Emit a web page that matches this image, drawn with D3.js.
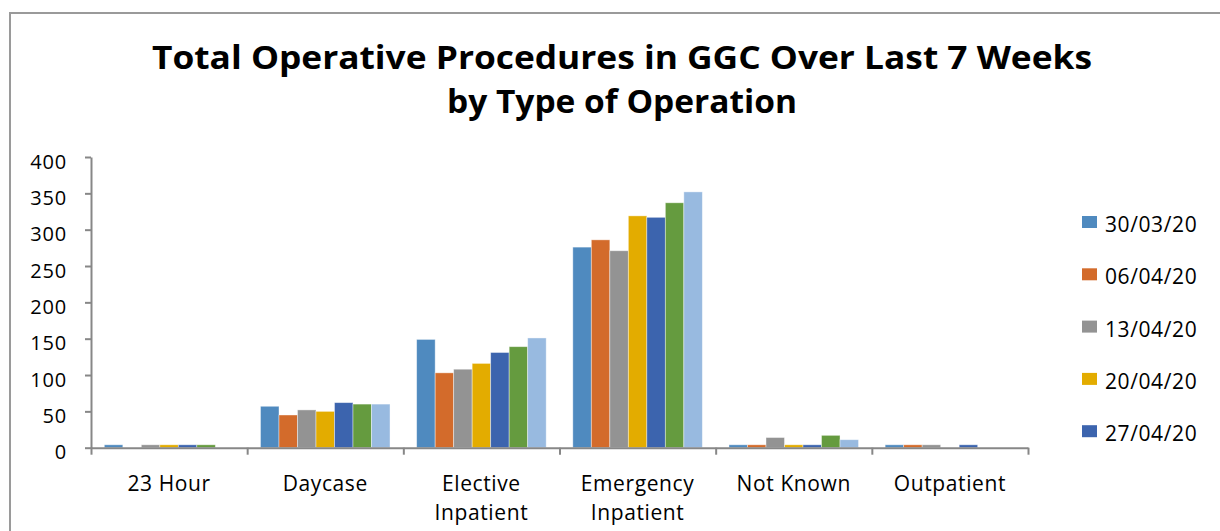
<!DOCTYPE html>
<meta charset="utf-8">
<style>
body { margin: 0; background: #fff; }
text { font-family: "Open Sans", sans-serif; fill: #000; }
.title { font-weight: 700; font-size: 32px; }
.axis text { font-size: 20px; letter-spacing: 0.8px; }
.axis path, .axis line { stroke: #878787; stroke-width: 2; }
.cat { font-size: 21px; letter-spacing: 0.6px; }
.legend text { font-size: 21px; letter-spacing: 0.6px; }
</style>
<svg width="1220" height="531"></svg>
<script src="https://cdn.jsdelivr.net/npm/d3@7"></script>
<script>

var categories = ["23 Hour", "Daycase", "Elective\nInpatient", "Emergency\nInpatient", "Not Known", "Outpatient"];
var weeks = ["30/03/20", "06/04/20", "13/04/20", "20/04/20", "27/04/20", "04/05/20", "11/05/20"];
var colors = ["#4f8abf", "#d36b2b", "#939393", "#e3ac00", "#3c64ae", "#659b3f", "#98bae0"];

// one array per week, in category order
var wk1 = [4, 57, 149, 276, 4, 4];
var wk2 = [0, 45, 103, 286, 4, 4];
var wk3 = [4, 52, 108, 271, 14, 4];
var wk4 = [4, 50, 116, 319, 4, 0];
var wk5 = [4, 62, 131, 317, 4, 4];
var wk6 = [4, 60, 139, 337, 17, 0];
var wk7 = [0, 60, 151, 352, 11, 0];
var series = [wk1, wk2, wk3, wk4, wk5, wk6, wk7];

var yTicks = [0, 50, 100, 150, 200, 250, 300, 350, 400];
var titleLines = ["Total Operative Procedures in GGC Over Last 7 Weeks", "by Type of Operation"];

var svg = d3.select("svg");

// chart frame (runs off the right and bottom edges)
svg.append("rect")
    .attr("x", 10).attr("y", 13)
    .attr("width", 1240).attr("height", 560)
    .attr("fill", "#fff")
    .attr("stroke", "#9a9a9a")
    .attr("stroke-width", 2);

var plotLeft = 91, plotRight = 1028, plotTop = 157, plotBottom = 447.7;

var x0 = d3.scaleBand().domain(categories).range([plotLeft, plotRight]).paddingInner(0).paddingOuter(0);
var x1 = d3.scaleBand().domain(weeks).range([0, x0.bandwidth()]).paddingInner(0).paddingOuter(0.72);
var y = d3.scaleLinear().domain([0, 400]).range([plotBottom, plotTop]);
var xEdge = d3.scaleLinear().domain([0, categories.length]).range([plotLeft, plotRight]);

// title
svg.selectAll(".title")
    .data(titleLines)
    .enter().append("text")
    .attr("class", "title")
    .attr("x", 622)
    .attr("y", function(d, i) { return 69 + i * 44; })
    .attr("text-anchor", "middle")
    .attr("textLength", function(d, i) { return i == 0 ? 940 : 350; })
    .attr("lengthAdjust", "spacingAndGlyphs")
    .text(function(d) { return d; });

// bars
var groups = svg.selectAll(".cat-g")
    .data(categories)
    .enter().append("g")
    .attr("class", "cat-g")
    .attr("transform", function(d) { return "translate(" + x0(d) + ",0)"; });

groups.selectAll("rect")
    .data(function(d, ci) { return weeks.map(function(w, wi) { return { week: w, i: wi, value: series[wi][ci] }; }); })
    .enter().append("rect")
    .filter(function(d) { return d.value > 0; })
    .attr("x", function(d) { return x1(d.week); })
    .attr("width", x1.bandwidth())
    .attr("y", function(d) { return y(d.value); })
    .attr("height", function(d) { return plotBottom - y(d.value); })
    .attr("fill", function(d) { return colors[d.i]; })
    .attr("stroke", "#ffffff")
    .attr("stroke-opacity", 0.5)
    .attr("stroke-width", 0.8);

// y axis
var yAxis = svg.append("g")
    .attr("class", "axis")
    .attr("transform", "translate(" + plotLeft + ",0)")
    .call(d3.axisLeft(y).tickValues(yTicks).tickSize(6).tickSizeOuter(0).tickPadding(18));
yAxis.selectAll("text").attr("dy", "0.55em");

// x axis, tick marks at category edges
svg.append("g")
    .attr("class", "axis")
    .attr("transform", "translate(0," + plotBottom + ")")
    .call(d3.axisBottom(xEdge).tickValues(d3.range(categories.length + 1)).tickSize(7).tickSizeOuter(0).tickFormat(""));

// category labels
var labels = svg.selectAll(".cat")
    .data(categories)
    .enter().append("text")
    .attr("class", "cat")
    .attr("text-anchor", "middle")
    .attr("x", function(d) { return x0(d) + x0.bandwidth() / 2; })
    .attr("y", 491);

labels.selectAll("tspan")
    .data(function(d) { return d.split("\n"); })
    .enter().append("tspan")
    .attr("x", function() { return this.parentNode.getAttribute("x"); })
    .attr("dy", function(d, i) { return i == 0 ? 0 : 29; })
    .text(function(d) { return d; });

// legend: like the original, only the entries that fit in the legend box are drawn
var legTop = 216, legStep = 52.3, legBottom = 455;
var shown = weeks.filter(function(w, i) { return legTop + i * legStep + 16 < legBottom; });

var item = svg.append("g").attr("class", "legend")
    .selectAll("g")
    .data(shown)
    .enter().append("g")
    .attr("transform", function(d, i) { return "translate(1082," + (legTop + i * legStep) + ")"; });

item.append("rect")
    .attr("width", 15).attr("height", 12)
    .attr("fill", function(d, i) { return colors[i]; });

item.append("text")
    .attr("x", 23)
    .attr("y", 16)
    .text(function(d) { return d; });

</script>
